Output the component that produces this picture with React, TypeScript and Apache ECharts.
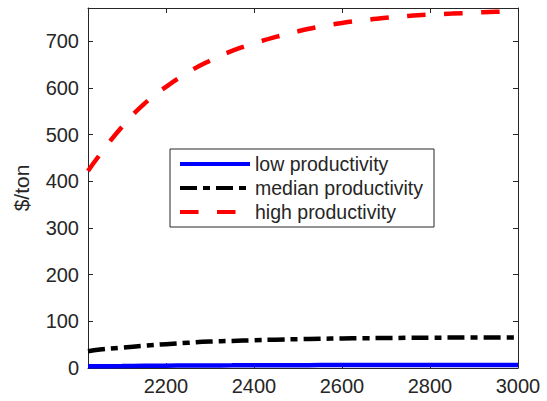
import React, { useEffect, useRef } from "react";
import * as echarts from "echarts";

const years = [2023, 2050, 2100, 2150, 2200, 2250, 2300, 2350, 2400, 2450, 2500, 2550, 2600, 2650, 2700, 2750, 2800, 2850, 2900, 2950, 3000];
const lowValues = [3.5, 3.8, 4.2, 4.6, 5.0, 5.3, 5.5, 5.7, 5.9, 6.0, 6.1, 6.2, 6.3, 6.3, 6.4, 6.4, 6.4, 6.5, 6.5, 6.5, 6.5];
const medianValues = [36, 39.5, 43.5, 47.5, 51, 54, 56.5, 58, 59.5, 60.7, 61.8, 62.6, 63.3, 63.8, 64.2, 64.6, 64.9, 65.1, 65.3, 65.5, 65.6];
const highValues = [422, 457, 516, 565, 602, 633, 658, 679, 695, 709, 721, 731, 739, 745, 750, 754, 757, 759, 761, 763, 764];
const seriesNames = ["low productivity", "median productivity", "high productivity"];
const xMin = 2023;
const xMax = 3000;
const yMin = 0;
const yMax = 771;

const AX = "#262626";
const FONT = "'Liberation Sans', Arial, Helvetica, sans-serif";

export default function App() {
  const ref = useRef<HTMLDivElement>(null);
  useEffect(() => {
    if (!ref.current) return;
    const chart = echarts.init(ref.current, undefined, { renderer: "svg" });
    const pair = (vals: number[]) => years.map((y, i) => [y, vals[i]]);
    const axisLine = { show: true, onZero: false, lineStyle: { color: AX, width: 1 } };
    const tick = { show: true, inside: true, length: 5, lineStyle: { color: AX, width: 1 } };
    chart.setOption({
      animation: false,
      backgroundColor: "#ffffff",
      textStyle: { fontFamily: FONT },
      grid: { left: 88, top: 8, width: 430, height: 360, containLabel: false },
      legend: {
        orient: "vertical",
        left: 170,
        top: 149,
        selectedMode: false,
        backgroundColor: "#ffffff",
        borderColor: AX,
        borderWidth: 1,
        borderRadius: 0,
        padding: [5, 11, 5, 8],
        itemWidth: 70,
        itemHeight: 20,
        itemGap: 4,
        itemStyle: { opacity: 0 },
        lineStyle: { width: 4 },
        textStyle: { color: AX, fontSize: 19.5, fontFamily: FONT, lineHeight: 20 },
        data: seriesNames,
      },
      xAxis: [
        {
          type: "value",
          position: "bottom",
          min: xMin,
          max: xMax,
          splitLine: { show: false },
          axisLine,
          axisTick: tick,
          axisLabel: {
            color: AX,
            fontSize: 20,
            fontFamily: FONT,
            margin: 8,
            formatter: (v: number) => (v % 200 === 0 ? String(v) : ""),
          },
        },
        {
          type: "value",
          position: "top",
          min: xMin,
          max: xMax,
          splitLine: { show: false },
          axisLine,
          axisTick: tick,
          axisLabel: { show: false },
        },
      ],
      yAxis: [
        {
          type: "value",
          position: "left",
          min: yMin,
          max: yMax,
          interval: 100,
          name: "$/ton",
          nameLocation: "middle",
          nameGap: 56,
          nameTextStyle: { color: AX, fontSize: 21, fontFamily: FONT },
          splitLine: { show: false },
          axisLine,
          axisTick: tick,
          axisLabel: {
            color: AX,
            fontSize: 20,
            fontFamily: FONT,
            margin: 9,
            formatter: (v: number) => (v % 100 === 0 ? String(v) : ""),
          },
        },
        {
          type: "value",
          position: "right",
          min: yMin,
          max: yMax,
          interval: 100,
          splitLine: { show: false },
          axisLine,
          axisTick: tick,
          axisLabel: { show: false },
        },
      ],
      series: [
        {
          name: seriesNames[0],
          type: "line",
          data: pair(lowValues),
          symbol: "none",
          smooth: true,
          lineStyle: { color: "#0000ff", width: 4.5, type: "solid" },
          itemStyle: { color: "#0000ff" },
          z: 3,
        },
        {
          name: seriesNames[1],
          type: "line",
          data: pair(medianValues),
          symbol: "none",
          smooth: true,
          lineStyle: { color: "#000000", width: 4.5, type: [17, 6, 7, 6] },
          itemStyle: { color: "#000000" },
          z: 3,
        },
        {
          name: seriesNames[2],
          type: "line",
          data: pair(highValues),
          symbol: "none",
          smooth: true,
          lineStyle: { color: "#ff0000", width: 4.5, type: [18.5, 18.5] },
          itemStyle: { color: "#ff0000" },
          z: 3,
        },
      ],
    });
    return () => chart.dispose();
  }, []);
  return <div ref={ref} style={{ width: 547, height: 401, position: "absolute", left: 0, top: 0 }} />;
}
